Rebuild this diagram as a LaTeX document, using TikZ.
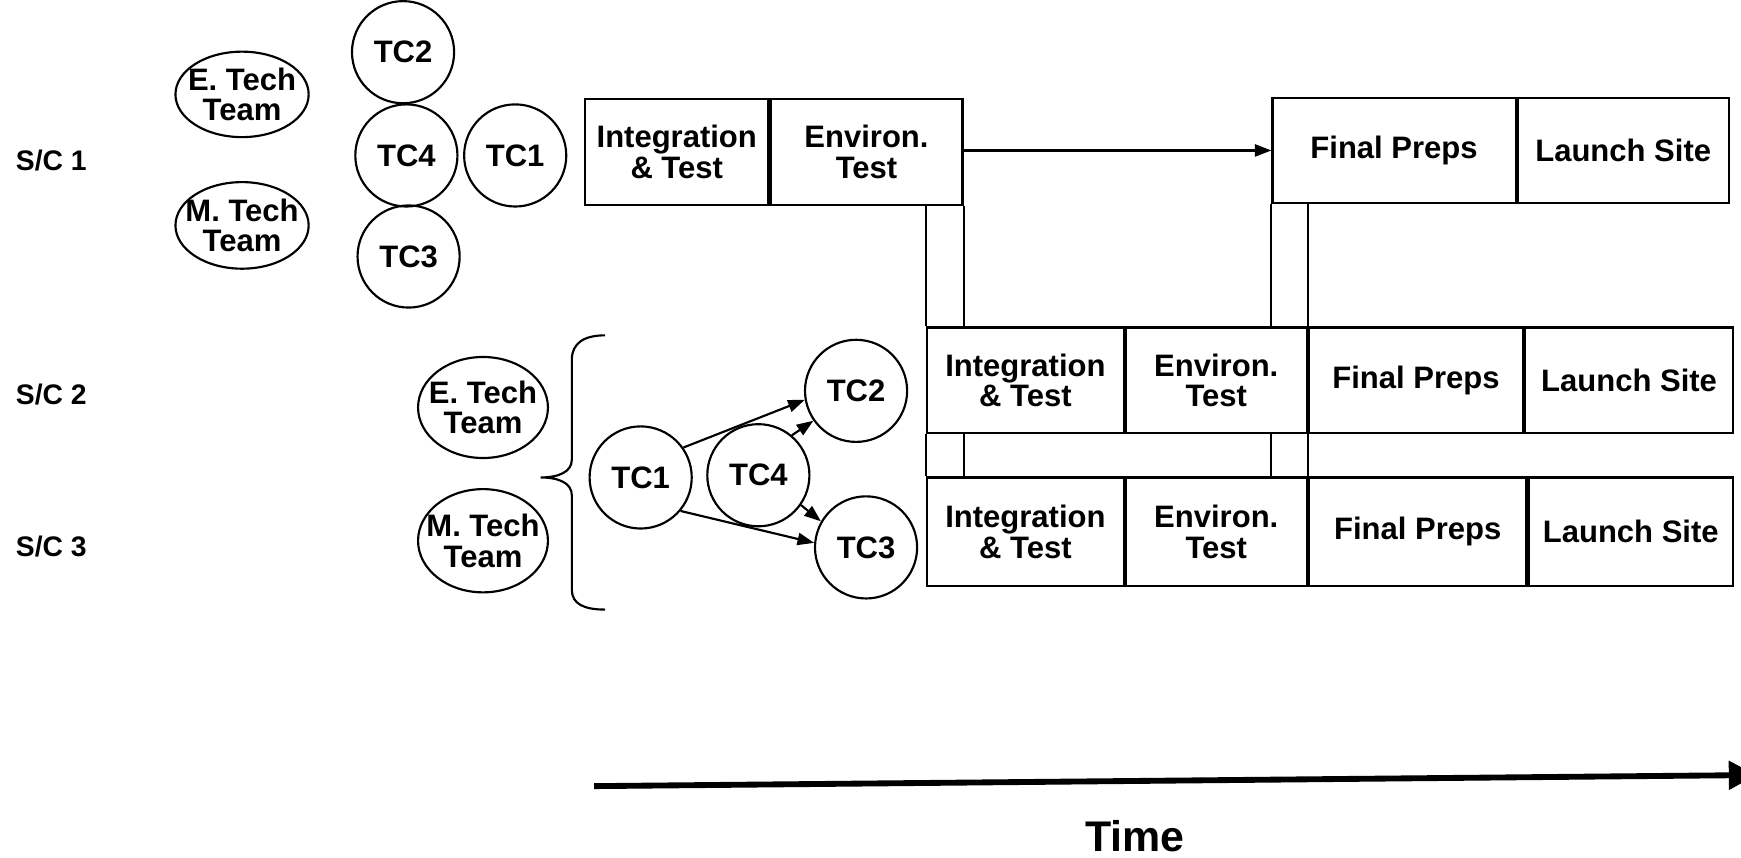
\documentclass[tikz,border=0pt]{standalone}
\usepackage{fontspec}
\setmainfont{Liberation Sans}
\usetikzlibrary{arrows.meta, positioning, shapes.geometric, calc}

\newcommand{\cellfont}{\fontsize{15.9}{15.6}\selectfont\bfseries}
\newcommand{\scfont}{\fontsize{14.5}{16}\selectfont\bfseries}
\newcommand{\timefont}{\fontsize{22}{24}\selectfont\bfseries}

\tikzset{
  cell/.style={
    draw,
    line width=1.1pt,
    minimum height=1.9cm,
    inner sep=0pt,
    align=center,
    font=\cellfont
  },
  tc/.style={circle, draw, line width=1.1pt, minimum size=1.84cm, inner sep=0pt, font=\cellfont},
  team/.style={ellipse, draw, line width=1.1pt, inner sep=0pt},
  teamtext/.style={align=center, font=\cellfont, inner sep=0pt},
  sclabel/.style={anchor=west, font=\scfont, inner sep=0pt},
  rail/.style={line width=1.1pt},
  flow/.style={-{Triangle[length=3mm,width=2.2mm]}, line width=1.1pt},
  timeline/.style={-{Triangle[length=5mm,width=5mm]}, line width=3pt}
}

\begin{document}
\begin{tikzpicture}[x=0.02cm, y=-0.02cm]
  \useasboundingbox[fill=white] (0,0) rectangle (1568,772);

  % spacecraft rows
  \node[sclabel] (sc1) at (14,145) {S/C 1};
  \node[sclabel] (sc2) at (14,355) {S/C 2};
  \node[sclabel] (sc3) at (14,492) {S/C 3};

  % S/C 1 teams and test conductors
  \node[team, minimum width=2.4cm, minimum height=1.54cm,
        label={[teamtext]center:E. Tech\\Team}] (eteam1) at (218,85) {};
  \node[team, minimum width=2.4cm, minimum height=1.56cm,
        label={[teamtext]center:M. Tech\\Team}] (mteam1) at (218,203) {};
  \node[tc] (tc2a) at (363,47) {TC2};
  \node[tc] (tc4a) at (366,140) {TC4};
  \node[tc] (tc1a) at (464,140) {TC1};
  \node[tc] (tc3a) at (368,231) {TC3};

  % S/C 2 and 3 share the teams
  \node[team, minimum width=2.34cm, minimum height=1.82cm,
        label={[teamtext]center:E. Tech\\Team}] (eteam2) at (435,367) {};
  \node[team, minimum width=2.34cm, minimum height=1.86cm,
        label={[teamtext]center:M. Tech\\Team}] (mteam2) at (435,487) {};
  \draw[rail] (545,302) .. controls (526,302) and (515,309) .. (515,324)
    -- (515,414) .. controls (515,425) and (503,430) .. (487,430)
    .. controls (503,430) and (515,435) .. (515,446)
    -- (515,531) .. controls (515,544) and (526,549) .. (545,549);

  \node[tc] (tc1b) at (577,430) {TC1};
  \node[tc] (tc4b) at (683,428) {TC4};
  \node[tc] (tc2b) at (771,352) {TC2};
  \node[tc] (tc3b) at (780,493) {TC3};

  \draw[flow] (tc1b.35) -- (tc2b.190);
  \draw[flow] (tc1b.-40) -- (tc3b.175);
  \draw[flow] (tc4b.50) -- (tc2b.215);
  \draw[flow] (tc4b.-35) -- (tc3b.150);

  % row 1
  \node[cell, minimum width=3.3cm, minimum height=1.92cm] (int1) at (609.5,137) {Integration\\\& Test};
  \node[cell, minimum width=3.46cm, minimum height=1.92cm, right=0pt of int1] (env1) {Environ.\\Test};
  \node[cell, minimum width=4.38cm] (fin1) at (1255.5,135.5) {Final Preps};
  \node[cell, minimum width=3.8cm, right=0pt of fin1] (lau1) {Launch Site};

  % row 2
  \node[cell, minimum width=3.54cm] (int2) at (923.5,342.5) {Integration\\\& Test};
  \node[cell, minimum width=3.26cm, right=0pt of int2] (env2) {Environ.\\Test};
  \node[cell, minimum width=3.86cm, right=0pt of env2] (fin2) {Final Preps};
  \node[cell, minimum width=3.74cm, right=0pt of fin2] (lau2) {Launch Site};

  % row 3
  \node[cell, minimum width=3.54cm, minimum height=1.96cm] (int3) at (923.5,479) {Integration\\\& Test};
  \node[cell, minimum width=3.26cm, minimum height=1.96cm, right=0pt of int3] (env3) {Environ.\\Test};
  \node[cell, minimum width=3.92cm, minimum height=1.96cm, right=0pt of env3] (fin3) {Final Preps};
  \node[cell, minimum width=3.68cm, minimum height=1.96cm, right=0pt of fin3] (lau3) {Launch Site};

  \draw[flow] (env1.east |- fin1.west) -- (fin1.west);

  % rails between the rows
  \draw[rail] (env1.south east) -- (env1.south east |- int2.north);
  \draw[rail] (int2.north west) -- (int2.north west |- env1.south);
  \draw[rail] (fin1.south west) -- (fin1.south west |- env2.north);
  \draw[rail] (fin2.north west) -- (fin2.north west |- fin1.south);
  \draw[rail] (int2.south west) -- (int3.north west);
  \draw[rail] (int2.south -| env1.east) -- (int3.north -| env1.east);
  \draw[rail] (int2.south -| fin1.west) -- (int3.north -| fin1.west);
  \draw[rail] (env2.south east) -- (fin3.north west);

  % time axis
  \coordinate (t0) at (535,708);
  \coordinate (t1) at (1582,698);
  \draw[timeline] (t0) -- (t1);
  \node[font=\timefont] (time) at (1022,753) {Time};
\end{tikzpicture}
\end{document}
